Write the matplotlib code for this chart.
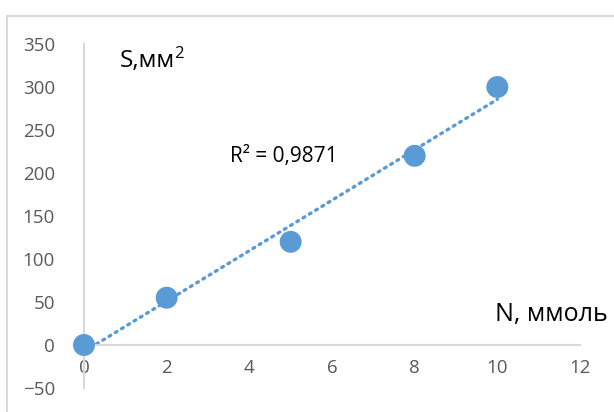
import numpy as np
import matplotlib.pyplot as plt
from matplotlib.lines import Line2D

# amount of substance vs. peak area
n_mmol = [0, 2, 5, 8, 10]
s_mm2 = [0, 55, 120, 220, 300]
r_squared = 0.9871

x_ticks = [0, 2, 4, 6, 8, 10, 12]
y_ticks = [-50, 0, 50, 100, 150, 200, 250, 300, 350]

plt.rcParams['font.family'] = ['Open Sans', 'DejaVu Sans']

blue = '#5b9bd5'
axis_grey = '#d9d9d9'
label_grey = '#595959'

fig = plt.figure(figsize=(6.14, 4.12), dpi=100)
fig.patch.set_facecolor('white')

# chart frame: top and left edges
fx, fy = 7 / 614, 1 - 16 / 412
fig.lines.append(Line2D([fx, 1], [fy, fy], transform=fig.transFigure,
                        color=axis_grey, linewidth=1.5))
fig.lines.append(Line2D([fx, fx], [0, fy], transform=fig.transFigure,
                        color=axis_grey, linewidth=1.5))

ax = fig.add_axes([84 / 614, 1 - 388 / 412, (580 - 84) / 614, (388 - 44) / 412])
ax.set_xlim(0, 12)
ax.set_ylim(-50, 350)

# linear trendline over the data range
k, b = np.polyfit(n_mmol, s_mm2, 1)
xs = np.array([min(n_mmol), max(n_mmol)])
ax.plot(xs, k * xs + b, linestyle=(0, (0.6, 1.6)), color=blue, linewidth=2.4,
        dash_capstyle='round', zorder=2)

ax.scatter(n_mmol, s_mm2, s=250, color=blue, edgecolor='none', zorder=3,
           clip_on=False)

for side in ['top', 'right']:
    ax.spines[side].set_visible(False)
ax.spines['bottom'].set_position(('data', 0))
for side in ['bottom', 'left']:
    ax.spines[side].set_color(axis_grey)
    ax.spines[side].set_linewidth(1.5)

ax.set_xticks(x_ticks)
ax.set_yticks(y_ticks)
ax.tick_params(length=0, labelsize=13.5, labelcolor=label_grey)
ax.tick_params(axis='x', pad=10)
ax.tick_params(axis='y', pad=21)

# y-axis title with a raised "2"
s_label = ax.text(120 / 614, 1 - 61 / 412, 'S,мм', transform=fig.transFigure,
                  fontsize=17.5, va='center', ha='left', color='black')
renderer = fig.canvas.get_renderer()
bb = s_label.get_window_extent(renderer)
fig.text((bb.x1 - 1) / fig.bbox.width, 1 - 54 / 412, '2',
         fontsize=12, va='center', ha='left', color='black')

ax.text(495 / 614, 1 - 314 / 412, 'N, ммоль', transform=fig.transFigure,
        fontsize=18, va='center', ha='left', color='black')
ax.text(230 / 614, 1 - 157 / 412, f'R² = {r_squared}'.replace('.', ','),
        transform=fig.transFigure, fontsize=15, va='center', ha='left',
        color='black')

fig.savefig('out.png', dpi=100)
